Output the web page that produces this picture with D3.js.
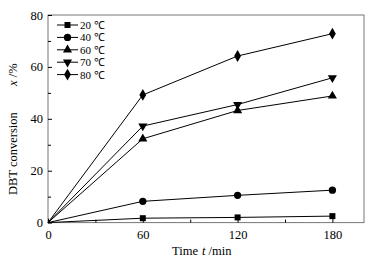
<!DOCTYPE html>
<html><head><meta charset="utf-8">
<script src="https://cdn.jsdelivr.net/npm/d3@7"></script>
<style>body{margin:0;background:#fff}svg{display:block}</style>
</head><body><svg width="378" height="263"></svg>
<script>
const times = [0, 60, 120, 180];
const seriesNames = ["20 ℃", "40 ℃", "60 ℃", "70 ℃", "80 ℃"];
const s20 = [0, 1.7, 2.0, 2.5];
const s40 = [0, 8.2, 10.5, 12.5];
const s60 = [0, 32.3, 43.2, 48.8];
const s70 = [0, 37.2, 45.5, 55.8];
const s80 = [0, 49.2, 64.2, 72.8];
const xTicks = [0, 60, 120, 180];
const yTicks = [0, 20, 40, 60, 80];
const seriesValues = [s20, s40, s60, s70, s80];
const markers = ["square", "circle", "triangleUp", "triangleDown", "diamond"];
const FONT = "'Liberation Serif','Times New Roman',serif";

const svg = d3.select("svg");
const L = 48, R = 364, T = 15, B = 222.6;
const x = d3.scaleLinear().domain([0, 200]).range([L, R]);
const y = d3.scaleLinear().domain([0, 80]).range([B, T]);

svg.append("rect").attr("x", L).attr("y", T).attr("width", R - L).attr("height", B - T)
  .attr("fill", "none").attr("stroke", "#777").attr("stroke-width", 1);

const gx = svg.append("g").attr("transform", `translate(0,${B})`)
  .call(d3.axisBottom(x).tickValues(xTicks).tickSizeInner(-4).tickSizeOuter(0).tickPadding(8));
gx.select(".domain").remove();
gx.selectAll("text").style("font-size", "12.5px").style("font-family", FONT);
svg.append("g").attr("transform", `translate(0,${B})`)
  .call(d3.axisBottom(x).tickValues([30, 90, 150]).tickSizeInner(-3).tickSizeOuter(0).tickFormat(""))
  .select(".domain").remove();

const gy = svg.append("g").attr("transform", `translate(${L},0)`)
  .call(d3.axisLeft(y).tickValues(yTicks).tickSizeInner(-4).tickSizeOuter(0).tickPadding(5));
gy.select(".domain").remove();
gy.selectAll("text").style("font-size", "12.5px").style("font-family", FONT);
svg.append("g").attr("transform", `translate(${L},0)`)
  .call(d3.axisLeft(y).tickValues([10, 30, 50, 70]).tickSizeInner(-3).tickSizeOuter(0).tickFormat(""))
  .select(".domain").remove();

function sym(kind, size) {
  const m = {square: d3.symbolSquare, circle: d3.symbolCircle, triangleUp: d3.symbolTriangle,
    triangleDown: d3.symbolTriangle, diamond: d3.symbolDiamond}[kind];
  return d3.symbol().type(m).size(size)();
}
const sizes = {square: 36, circle: 42, triangleUp: 36, triangleDown: 36, diamond: 40};

const line = d3.line().x((d, i) => x(times[i])).y(d => y(d));
seriesValues.forEach((vals, si) => {
  svg.append("path").attr("d", line(vals)).attr("fill", "none").attr("stroke", "#000").attr("stroke-width", 1);
  vals.forEach((v, i) => {
    if (i === 0) return;
    const k = markers[si];
    svg.append("path").attr("d", sym(k, sizes[k]))
      .attr("transform", `translate(${x(times[i])},${y(v)})${k === "triangleDown" ? " rotate(180)" : ""}`)
      .attr("fill", "#000");
  });
});

const lg = svg.append("g");
seriesNames.forEach((name, i) => {
  const yy = 25 + i * 12.4;
  lg.append("line").attr("x1", 57).attr("x2", 78).attr("y1", yy).attr("y2", yy).attr("stroke", "#000");
  const k = markers[i];
  lg.append("path").attr("d", sym(k, sizes[k]))
    .attr("transform", `translate(67.5,${yy})${k === "triangleDown" ? " rotate(180)" : ""}`).attr("fill", "#000");
  lg.append("text").attr("x", 80).attr("y", yy + 4).style("font-size", "11px").style("font-family", FONT).text(name);
});

svg.append("text").attr("x", 172).attr("y", 255).style("font-size", "12.5px").style("font-family", FONT).text("Time");
svg.append("text").attr("x", 202).attr("y", 255).style("font-size", "12.5px").style("font-family", FONT)
  .html('<tspan font-style="italic">t</tspan> /min');
svg.append("text").attr("transform", "translate(17,195) rotate(-90)").style("font-size", "12.5px").style("font-family", FONT).text("DBT conversion");
svg.append("text").attr("transform", "translate(17,86) rotate(-90)").style("font-size", "12.5px").style("font-family", FONT)
  .html('<tspan font-style="italic">x</tspan> /%');
</script></body></html>
